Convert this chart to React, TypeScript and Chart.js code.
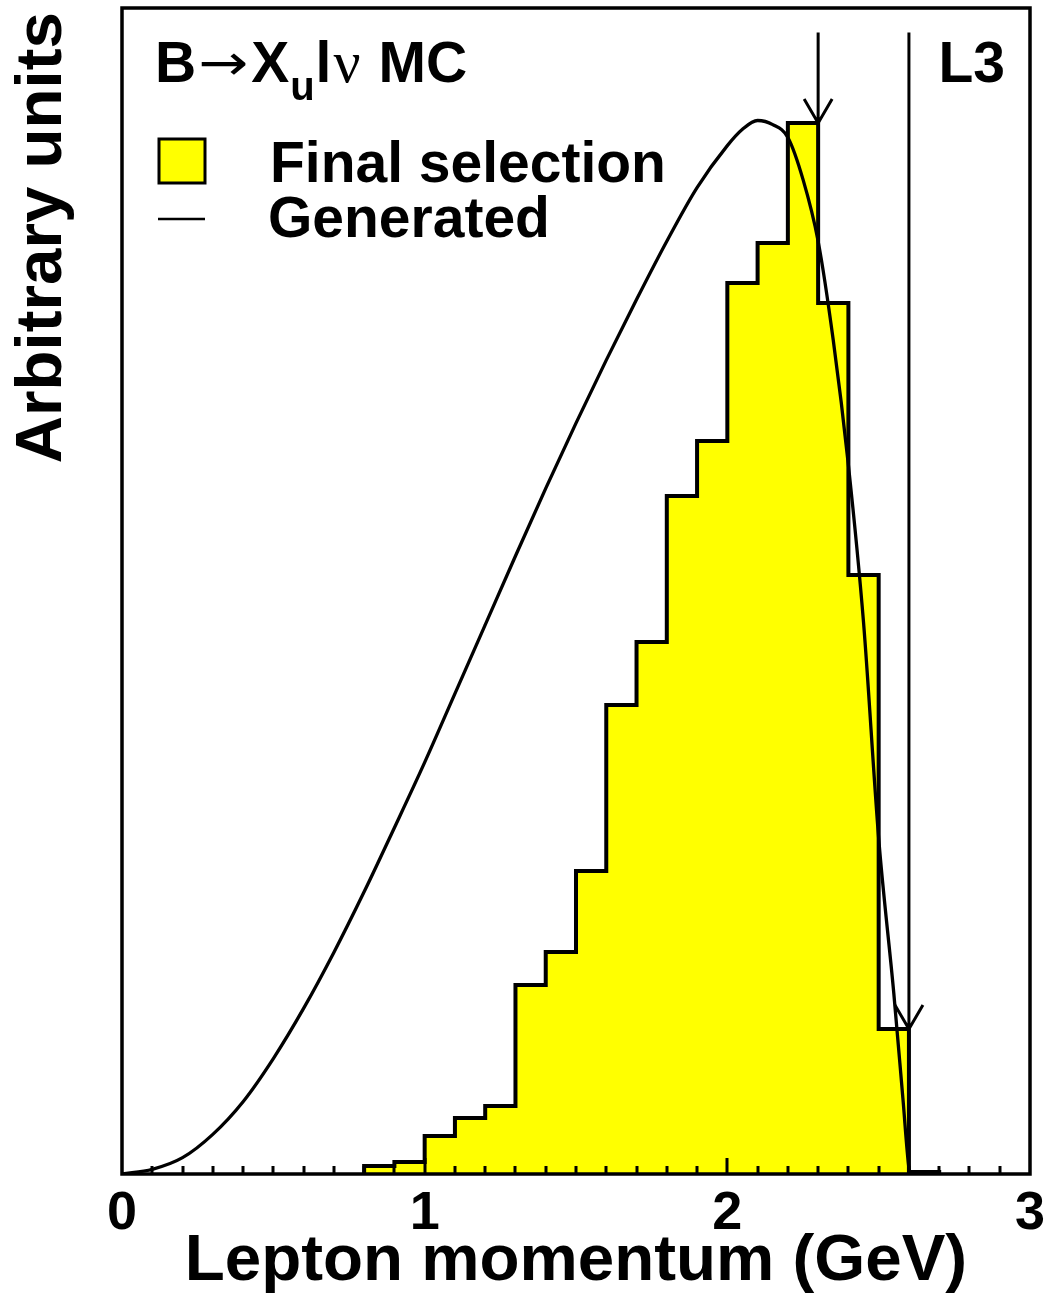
import React, { useEffect, useRef } from 'react';
import { Chart, registerables } from 'chart.js';

Chart.register(...registerables);

// ---- data ----
const binEdges = [0.8, 0.9, 1.0, 1.1, 1.2, 1.3, 1.4, 1.5, 1.6, 1.7, 1.8, 1.9, 2.0, 2.1, 2.2, 2.3, 2.4, 2.5, 2.6, 2.7];
const histValues = [0.69, 1.03, 3.26, 4.8, 5.83, 16.21, 19.04, 25.99, 40.22, 45.63, 58.15, 62.86, 76.41, 79.85, 90.14, 74.7, 51.37, 12.44, 0.17];

const genX = [0, 0.1, 0.2, 0.3, 0.4, 0.5, 0.6, 0.7, 0.8, 0.9, 1.0, 1.1, 1.2, 1.3, 1.4, 1.5, 1.6, 1.7, 1.8, 1.9, 2.0, 2.05, 2.1, 2.15, 2.2, 2.25, 2.3, 2.35, 2.4, 2.45, 2.5, 2.55, 2.58, 2.6, 2.605];
const genY = [0, 0.4, 1.4, 3.4, 6.2, 9.9, 14.2, 19.0, 24.2, 29.7, 35.3, 41.2, 47.1, 53.0, 58.8, 64.4, 69.8, 75.0, 80.0, 84.6, 88.2, 89.6, 90.35, 90.0, 88.9, 85.3, 80.0, 71.5, 60.8, 47.3, 28.8, 15.5, 6.5, 0.5, 0];

const xTickValues = [0, 1, 2, 3];
const xTickLabels = ['0', '1', '2', '3'];
const minorTickStep = 0.1;

const cutValues = [2.3, 2.6];
const cutArrowTips = [90.14, 12.44];
const cutArrowTop = 97.9;

const xTitle = 'Lepton momentum (GeV)';
const yTitle = 'Arbitrary units';
const legendLabels = ['Final selection', 'Generated'];
const cornerLabel = 'L3';

const BOLD = '"Liberation Sans", Arial, Helvetica, sans-serif';

const overlayPlugin = {
  id: 'overlay',
  afterDatasetsDraw(chart: any) {
    const { ctx, chartArea: a, scales } = chart;
    const xs = scales.x;
    const ys = scales.y;
    ctx.save();
    ctx.strokeStyle = '#000';
    ctx.fillStyle = '#000';

    // frame
    ctx.lineWidth = 3.5;
    ctx.strokeRect(a.left, a.top, a.right - a.left, a.bottom - a.top);

    // ticks (inward)
    ctx.lineWidth = 3;
    const nTicks = Math.round((xs.max - xs.min) / minorTickStep);
    for (let i = 1; i < nTicks; i++) {
      const v = xs.min + i * minorTickStep;
      const px = Math.round(xs.getPixelForValue(v));
      const len = i % 10 === 0 ? 16 : 8;
      ctx.beginPath();
      ctx.moveTo(px, a.bottom);
      ctx.lineTo(px, a.bottom - len);
      ctx.stroke();
    }

    // tick labels
    ctx.font = `bold 54px ${BOLD}`;
    ctx.textAlign = 'center';
    ctx.textBaseline = 'alphabetic';
    xTickValues.forEach((v, i) => {
      ctx.fillText(xTickLabels[i], xs.getPixelForValue(v), a.bottom + 55);
    });

    // axis titles
    ctx.font = `bold 65.5px ${BOLD}`;
    ctx.fillText(xTitle, (a.left + a.right) / 2, a.bottom + 106);
    ctx.save();
    ctx.translate(61, 12);
    ctx.rotate(-Math.PI / 2);
    ctx.textAlign = 'right';
    ctx.fillText(yTitle, 0, 0);
    ctx.restore();

    // cut arrows
    ctx.lineWidth = 3;
    ctx.lineJoin = 'miter';
    cutValues.forEach((c, i) => {
      const px = xs.getPixelForValue(c);
      const top = ys.getPixelForValue(cutArrowTop);
      const tip = ys.getPixelForValue(cutArrowTips[i]);
      ctx.beginPath();
      ctx.moveTo(px, top);
      ctx.lineTo(px, tip);
      ctx.moveTo(px - 14, tip - 24);
      ctx.lineTo(px, tip);
      ctx.lineTo(px + 14, tip - 24);
      ctx.stroke();
    });

    // header label: B→X_u lν MC
    ctx.textAlign = 'left';
    let cx = 155;
    const base = 82;
    ctx.font = `bold 57px ${BOLD}`;
    ctx.fillText('B', cx, base);
    cx += ctx.measureText('B').width + 2;
    ctx.font = `50px "DejaVu Sans", sans-serif`;
    const aw = ctx.measureText('\u2192').width;
    ctx.save();
    ctx.translate(cx, base - 2);
    ctx.scale(50 / aw, 1);
    ctx.fillText('\u2192', 0, 0);
    ctx.restore();
    cx += 53;
    ctx.font = `bold 57px ${BOLD}`;
    ctx.fillText('X', cx, base);
    cx += ctx.measureText('X').width + 1;
    ctx.font = `bold 40px ${BOLD}`;
    ctx.fillText('u', cx, base + 18);
    cx += ctx.measureText('u').width + 1;
    ctx.font = `bold 57px ${BOLD}`;
    ctx.fillText('l', cx, base);
    cx += ctx.measureText('l').width + 2;
    ctx.font = `60px "Liberation Serif", "Times New Roman", serif`;
    ctx.fillText('\u03bd', cx, base);
    cx += ctx.measureText('\u03bd').width + 2;
    ctx.font = `bold 57px ${BOLD}`;
    ctx.fillText(' MC', cx, base);

    // L3
    ctx.textAlign = 'right';
    ctx.fillText(cornerLabel, 1005, base);

    // legend
    ctx.textAlign = 'left';
    ctx.fillStyle = '#ffff00';
    ctx.fillRect(159, 139, 46, 44);
    ctx.lineWidth = 3;
    ctx.strokeRect(159, 139, 46, 44);
    ctx.fillStyle = '#000';
    ctx.lineWidth = 2.5;
    ctx.beginPath();
    ctx.moveTo(158, 219);
    ctx.lineTo(205, 219);
    ctx.stroke();
    ctx.font = `bold 57px ${BOLD}`;
    ctx.fillText(legendLabels[0], 270, 182);
    ctx.fillText(legendLabels[1], 268, 237);

    ctx.restore();
  },
};

export default function App() {
  const ref = useRef<HTMLCanvasElement | null>(null);

  useEffect(() => {
    if (!ref.current) return;
    const histPoints = [{ x: binEdges[0], y: 0 }]
      .concat(histValues.map((v, i) => ({ x: binEdges[i], y: v })))
      .concat([{ x: binEdges[binEdges.length - 1], y: 0 }]);
    const genPoints = genX.map((x, i) => ({ x, y: genY[i] }));

    const chart = new Chart(ref.current, {
      type: 'line',
      data: {
        datasets: [
          {
            label: legendLabels[1],
            data: genPoints,
            borderColor: '#000',
            borderWidth: 3.3,
            pointRadius: 0,
            fill: false,
            cubicInterpolationMode: 'monotone',
            order: 0,
          },
          {
            label: legendLabels[0],
            data: histPoints,
            borderColor: '#000',
            backgroundColor: '#ffff00',
            borderWidth: 4,
            pointRadius: 0,
            stepped: 'before',
            fill: 'origin',
            order: 1,
          },
        ],
      },
      options: {
        responsive: false,
        animation: false,
        devicePixelRatio: 1,
        layout: { padding: { left: 122, right: 17, top: 8, bottom: 124 } },
        plugins: { legend: { display: false }, tooltip: { enabled: false } },
        scales: {
          x: { type: 'linear', min: 0, max: 3, display: false },
          y: { type: 'linear', min: 0, max: 100, display: false },
        },
      },
      plugins: [overlayPlugin],
    } as any);
    return () => chart.destroy();
  }, []);

  return (
    <div style={{ position: 'fixed', left: 0, top: 0, width: 1047, height: 1298, background: '#fff' }}>
      <canvas ref={ref} width={1047} height={1298} />
    </div>
  );
}
